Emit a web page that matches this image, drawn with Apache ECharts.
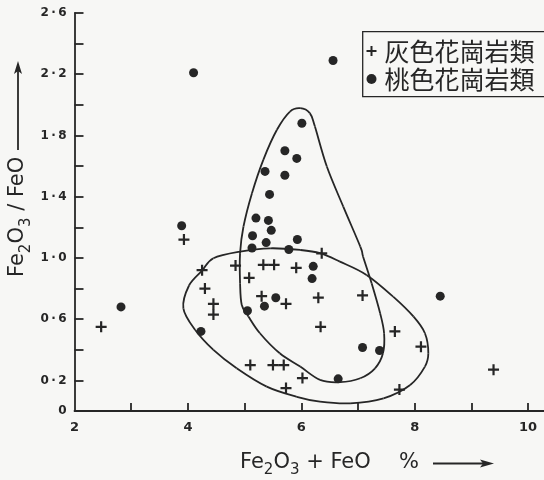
<!DOCTYPE html>
<html>
<head>
<meta charset="utf-8">
<script src="https://cdn.jsdelivr.net/npm/echarts@6/dist/echarts.min.js"></script>
<style>
html,body{margin:0;padding:0;background:#f7f7f5;}
#chart{width:544px;height:480px;}
</style>
</head>
<body>
<div id="chart"></div>
<script>
// ---- data ----
const seriesNames = ['灰色花崗岩類', '桃色花崗岩類'];

// grey granite (+)  [Fe2O3+FeO %, Fe2O3/FeO]
const greyGranite = [
  [2.47, 0.55], [3.93, 1.12], [4.25, 0.92], [4.30, 0.80], [4.45, 0.70],
  [4.45, 0.63], [4.84, 0.95], [5.08, 0.87], [5.33, 0.955], [5.52, 0.955],
  [5.91, 0.935], [5.30, 0.75], [5.73, 0.70], [6.36, 1.03], [6.30, 0.74],
  [6.34, 0.55], [7.08, 0.755], [7.65, 0.52], [8.11, 0.42], [5.10, 0.30],
  [5.50, 0.30], [5.69, 0.30], [6.02, 0.215], [5.73, 0.15], [7.73, 0.14],
  [9.39, 0.27]
];

// pink granite (●)
const pinkGranite = [
  [2.82, 0.68], [3.89, 1.21], [4.10, 2.21], [6.56, 2.29], [6.01, 1.88],
  [5.71, 1.70], [5.92, 1.65], [5.36, 1.565], [5.71, 1.54], [5.44, 1.415],
  [5.20, 1.26], [5.42, 1.245], [5.47, 1.18], [5.14, 1.145], [5.38, 1.10],
  [5.93, 1.12], [5.13, 1.065], [5.78, 1.055], [6.21, 0.945], [6.19, 0.865],
  [5.55, 0.74], [5.35, 0.685], [5.05, 0.655], [4.23, 0.52], [8.45, 0.75],
  [7.08, 0.415], [7.38, 0.395], [6.65, 0.21]
];

// hand-drawn field outlines (closed; data coordinates of the outline's knots)
const greyOutline = [
  [3.92, 0.671], [4.02, 0.82], [4.25, 0.917], [4.45, 0.998], [4.92, 1.041],
  [5.45, 1.063], [5.98, 1.052], [6.33, 1.031], [6.68, 0.976], [7.15, 0.889],
  [7.62, 0.747], [7.98, 0.616], [8.18, 0.508], [8.24, 0.377], [8.18, 0.29],
  [7.92, 0.17], [7.45, 0.083], [6.86, 0.05], [6.33, 0.061], [5.92, 0.093],
  [5.39, 0.159], [4.86, 0.279], [4.45, 0.399], [4.13, 0.529]
];
const pinkOutline = [
  [5.98, 1.978], [6.15, 1.946], [6.24, 1.858], [6.45, 1.597], [6.74, 1.335],
  [7.04, 1.074], [7.09, 1.008], [7.24, 0.835], [7.39, 0.639], [7.46, 0.508],
  [7.44, 0.377], [7.30, 0.279], [7.04, 0.214], [6.68, 0.188], [6.33, 0.203],
  [5.98, 0.29], [5.62, 0.377], [5.27, 0.508], [5.07, 0.616], [4.95, 0.693],
  [4.92, 0.835], [4.92, 1.031], [4.98, 1.205], [5.13, 1.423], [5.33, 1.641],
  [5.57, 1.837], [5.80, 1.956]
];

const xTickValues = [3, 4, 5, 6, 7, 8, 9, 10];
const xLabelValues = [2, 4, 6, 8, 10];
const yLabelValues = [0, 0.2, 0.6, 1.0, 1.4, 1.8, 2.2, 2.6];

// ---- chart ----
const ink = '#262626';
const plusPath = 'path://M4,0H6V4H10V6H6V10H4V6H0V4H4Z';
const chart = echarts.init(document.getElementById('chart'));

// closed smooth outline through knots, drawn via the axes' coordinate system
function outlineRenderer(knots) {
  return function (params, api) {
    if (params.dataIndex !== 0) return;
    const p = knots.map(k => api.coord(k));
    const n = p.length;
    const children = [];
    for (let i = 0; i < n; i++) {
      const p0 = p[(i - 1 + n) % n], p1 = p[i], p2 = p[(i + 1) % n], p3 = p[(i + 2) % n];
      children.push({
        type: 'bezierCurve',
        shape: {
          x1: p1[0], y1: p1[1], x2: p2[0], y2: p2[1],
          cpx1: p1[0] + (p2[0] - p0[0]) / 6, cpy1: p1[1] + (p2[1] - p0[1]) / 6,
          cpx2: p2[0] - (p3[0] - p1[0]) / 6, cpy2: p2[1] - (p3[1] - p1[1]) / 6
        },
        style: { fill: null, stroke: ink, lineWidth: 1.8 }
      });
    }
    return { type: 'group', children };
  };
}

chart.setOption({
  backgroundColor: '#f7f7f5',
  animation: false,
  grid: { left: 74.5, right: 0, top: 13, bottom: 69 },
  xAxis: {
    type: 'value', min: 2, max: 10.28, interval: 1,
    splitLine: { show: false },
    axisLine: { lineStyle: { color: ink, width: 1.8 } },
    axisTick: { inside: true, length: 8, customValues: xTickValues, lineStyle: { color: ink, width: 1.8 } },
    axisLabel: {
      customValues: xLabelValues, margin: 10,
      color: ink, fontFamily: 'DejaVu Sans', fontWeight: 'bold', fontSize: 13
    }
  },
  yAxis: {
    type: 'value', min: 0, max: 2.6, interval: 0.2,
    splitLine: { show: false },
    axisLine: { show: true, lineStyle: { color: ink, width: 1.8 } },
    axisTick: { show: true, inside: true, length: 9, lineStyle: { color: ink, width: 1.8 } },
    axisLabel: {
      customValues: yLabelValues, margin: 8,
      color: ink, fontFamily: 'DejaVu Sans', fontWeight: 'bold', fontSize: 12,
      formatter: v => (Math.abs(v) < 1e-9 ? '0' : v.toFixed(1).replace('.', '\u2009·\u2009'))
    }
  },
  legend: {
    orient: 'vertical', left: 362.5, top: 33.5,
    padding: [5, 0, 5, 4], itemGap: 3,
    itemWidth: 10, itemHeight: 10,
    borderWidth: 0,
    selectedMode: false,
    textStyle: { fontFamily: 'Noto Sans CJK JP', fontSize: 25, color: ink, padding: [0, 0, 0, 3] },
    data: [
      { name: seriesNames[0], icon: plusPath },
      { name: seriesNames[1], icon: 'circle' }
    ]
  },
  series: [
    {
      name: 'greyOutline', type: 'custom', data: [0], renderItem: outlineRenderer(greyOutline),
      z: 1, silent: true, clip: false
    },
    {
      name: 'pinkOutline', type: 'custom', data: [0], renderItem: outlineRenderer(pinkOutline),
      z: 1, silent: true, clip: false
    },
    {
      name: seriesNames[0], type: 'scatter', data: greyGranite,
      symbol: plusPath, symbolSize: 11, itemStyle: { color: ink, opacity: 1 }, z: 3
    },
    {
      name: seriesNames[1], type: 'scatter', data: pinkGranite,
      symbol: 'circle', symbolSize: 9, itemStyle: { color: ink, opacity: 1 }, z: 3
    }
  ],
  graphic: [
    { type: 'rect', shape: { x: 362.7, y: 31.7, width: 220, height: 65 }, style: { fill: null, stroke: ink, lineWidth: 1.3 } },
    {
      type: 'text', x: 240, y: 450,
      style: {
        text: 'Fe{s|2}O{s|3} + FeO',
        align: 'left', verticalAlign: 'top',
        fill: ink, font: '21px "DejaVu Sans"',
        rich: {
          s: { fontSize: 15, fontFamily: 'DejaVu Sans', lineHeight: 15, padding: [13, 0, 0, 0], verticalAlign: 'top', fill: ink }
        },
        lineHeight: 25
      }
    },
    {
      type: 'text', x: 399, y: 450,
      style: { text: '%', align: 'left', verticalAlign: 'top', fill: ink, font: '21px "DejaVu Sans"', lineHeight: 25 }
    },
    { type: 'line', shape: { x1: 433, y1: 463.5, x2: 488, y2: 463.5 }, style: { stroke: ink, lineWidth: 1.8 } },
    { type: 'polygon', shape: { points: [[480, 459.5], [494, 463.5], [480, 467.5], [483, 463.5]] }, style: { fill: ink } },
    {
      type: 'text', x: 18, y: 277, rotation: Math.PI / 2,
      style: {
        text: 'Fe{s|2}O{s|3} / FeO',
        align: 'left', verticalAlign: 'middle',
        fill: ink, font: '21px "DejaVu Sans"',
        rich: {
          s: { fontSize: 15, fontFamily: 'DejaVu Sans', lineHeight: 15, padding: [13, 0, 0, 0], verticalAlign: 'top', fill: ink }
        },
        lineHeight: 25
      }
    },
    { type: 'line', shape: { x1: 18, y1: 150, x2: 18, y2: 68 }, style: { stroke: ink, lineWidth: 1.8 } },
    { type: 'polygon', shape: { points: [[14, 74], [18, 61], [22, 74], [18, 71]] }, style: { fill: ink } }
  ]
});
</script>
</body>
</html>
